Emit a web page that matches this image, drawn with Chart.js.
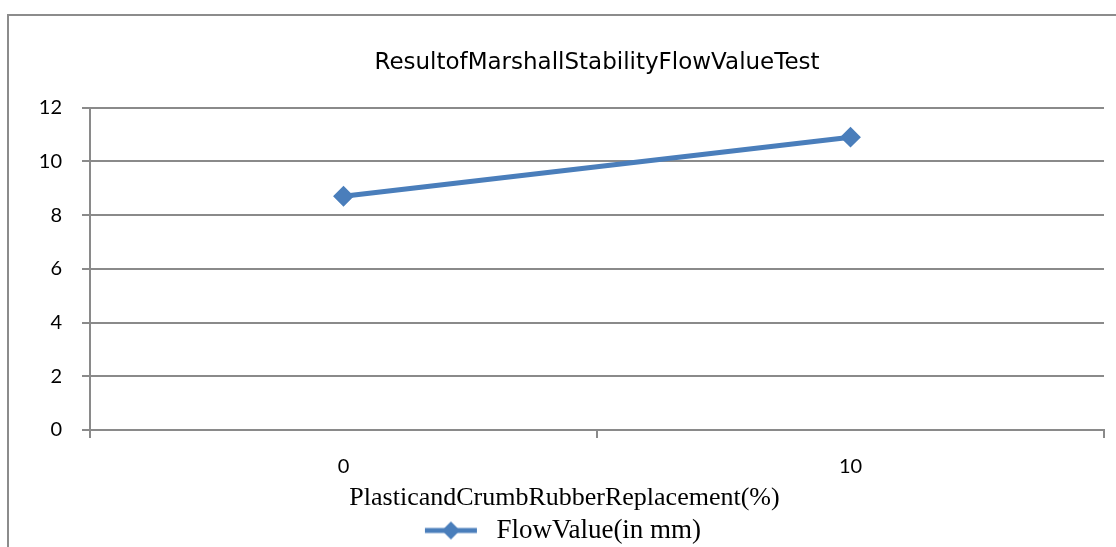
<!DOCTYPE html>
<html>
<head>
<meta charset="utf-8">
<script src="https://cdn.jsdelivr.net/npm/chart.js"></script>
<style>
  html, body { margin: 0; padding: 0; background: #fff; overflow: hidden; }
  .wrap { position: relative; width: 1116px; height: 547px; }
  .frame { position: absolute; left: 7px; top: 14px; width: 1200px; height: 700px; border: 2px solid #8c8c8c; }
  #myChart { position: absolute; left: 0; top: 0; }
</style>
</head>
<body>
<div class="wrap">
  <div class="frame"></div>
  <canvas id="myChart" width="1116" height="547"></canvas>
</div>
<script>
const categories = ["0", "10"];
const flowValues = [8.7, 10.9];
const yTicks = [0, 2, 4, 6, 8, 10, 12];

const blue = "#4a7ebb";
const grey = "#8a8a8a";

// legend marker: short line with a diamond on it (left part left empty for spacing)
const marker = document.createElement("canvas");
marker.width = 80;
marker.height = 22;
(function () {
  const c = marker.getContext("2d");
  c.strokeStyle = blue;
  c.lineWidth = 5;
  c.beginPath();
  c.moveTo(22, 11);
  c.lineTo(74, 11);
  c.stroke();
  c.fillStyle = blue;
  c.beginPath();
  c.moveTo(48, 2);
  c.lineTo(57, 11);
  c.lineTo(48, 20);
  c.lineTo(39, 11);
  c.closePath();
  c.fill();
})();

// put the chart title over the plot area like Excel does
const centerTitle = {
  id: "centerTitle",
  afterLayout(chart) {
    const t = chart.titleBlock;
    t.left = chart.chartArea.left;
    t.right = chart.chartArea.right;
  },
};

const ctx = document.getElementById("myChart");

new Chart(ctx, {
  type: "line",
  data: {
    labels: categories,
    datasets: [
      {
        label: "FlowValue(in mm)",
        data: flowValues,
        borderColor: blue,
        backgroundColor: blue,
        borderWidth: 5,
        pointStyle: "rectRot",
        pointRadius: 9,
        pointBorderWidth: 2,
        pointBackgroundColor: blue,
        pointBorderColor: blue,
        tension: 0,
      },
    ],
  },
  plugins: [centerTitle],
  options: {
    responsive: false,
    animation: false,
    layout: { padding: { left: 0, right: 12, top: 0, bottom: -7 } },
    plugins: {
      title: {
        display: true,
        text: "ResultofMarshallStabilityFlowValueTest",
        color: "#000",
        font: { family: "DejaVu Sans", size: 23, weight: "normal" },
        padding: { top: 49, bottom: 31 },
      },
      legend: {
        position: "bottom",
        labels: {
          color: "#000",
          font: { family: "Liberation Serif", size: 27 },
          usePointStyle: true,
          pointStyleWidth: 80,
          padding: 8,
          generateLabels: (chart) => [{
            text: chart.data.datasets[0].label,
            pointStyle: marker,
            fillStyle: blue,
            strokeStyle: blue,
            lineWidth: 0,
            datasetIndex: 0,
          }],
        },
      },
      tooltip: { enabled: false },
    },
    scales: {
      x: {
        type: "category",
        offset: true,
        grid: { offset: true, drawOnChartArea: false, color: grey, lineWidth: 2, tickLength: 8 },
        border: { color: grey, width: 2 },
        ticks: { color: "#000", font: { family: "Lato", size: 20 }, padding: 17 },
        title: {
          display: true,
          text: "PlasticandCrumbRubberReplacement(%)          ",
          color: "#000",
          font: { family: "Liberation Serif", size: 26, lineHeight: 1 },
          padding: { top: 0, bottom: -2 },
        },
        afterFit: (scale) => { scale.height = 79; },
      },
      y: {
        min: 0,
        max: 12,
        afterBuildTicks: (scale) => { scale.ticks = yTicks.map((v) => ({ value: v })); },
        grid: { color: grey, lineWidth: 2, tickLength: 8 },
        border: { color: grey, width: 2 },
        ticks: { color: "#000", font: { family: "Lato", size: 20 }, padding: 20 },
        afterFit: (scale) => { scale.width = 90; },
      },
    },
  },
});
</script>
</body>
</html>
